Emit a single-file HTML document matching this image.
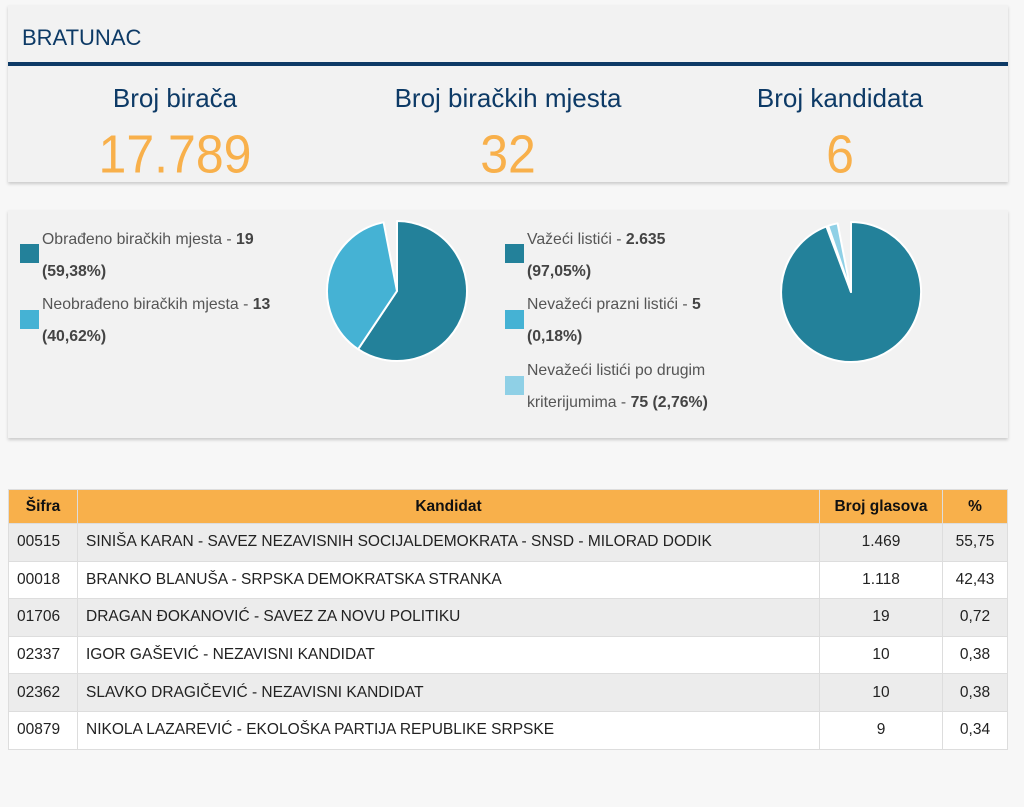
<!DOCTYPE html>
<html><head><meta charset="utf-8"><style>
body{margin:0;background:#f7f7f7;font-family:"Liberation Sans",sans-serif;width:1024px;height:807px;position:relative;overflow:hidden}
.card{position:absolute;left:8px;width:1000px;background:#f2f2f2;box-shadow:0 2px 3px rgba(0,0,0,.18)}
.h{position:absolute;left:14px;top:20px;font-size:22px;color:#0d3a66}
.line{position:absolute;left:0;right:0;top:57px;height:4px;background:#0d3a66}
.st{position:absolute;text-align:center;width:320px}
.st .t{font-size:26px;color:#0d3a66}
.st .n{font-size:50px;color:#f8b04b;margin-top:11px;transform:scaleY(1.08)}
.lg{position:absolute;font-size:15.8px;color:#555;line-height:32px}
.lg b{color:#444}
.sq{position:absolute;width:19px;height:19px}
table{position:absolute;left:8px;top:489px;width:1000px;border-collapse:collapse;font-size:15.5px;color:#222}
td,th{border:1px solid #ddd;padding:0 8px;height:37.6px;box-sizing:border-box}
th{background:#f8b04b;height:34px;font-weight:bold;color:#111}
tr:nth-child(even) td{background:#ececec}
tr:nth-child(odd) td{background:#fff}
.r{text-align:center}
</style></head><body>
<div class="card" style="top:5px;height:177px">
<div class="h">BRATUNAC</div><div class="line"></div>
<div class="st" style="left:7px;top:78px"><div class="t">Broj birača</div><div class="n">17.789</div></div>
<div class="st" style="left:340px;top:78px"><div class="t">Broj biračkih mjesta</div><div class="n">32</div></div>
<div class="st" style="left:672px;top:78px"><div class="t">Broj kandidata</div><div class="n">6</div></div>
</div>
<div class="card" style="top:210px;height:228px">
<div class="sq" style="left:12px;top:34px;background:#23819a"></div>
<div class="lg" style="left:34px;top:14px;width:270px">Obrađeno biračkih mjesta - <b>19</b><br><b>(59,38%)</b></div>
<div class="sq" style="left:12px;top:100px;background:#45b2d4"></div>
<div class="lg" style="left:34px;top:79px;width:270px">Neobrađeno biračkih mjesta - <b>13</b><br><b>(40,62%)</b></div>
<div class="sq" style="left:497px;top:34px;background:#23819a"></div>
<div class="lg" style="left:519px;top:14px;width:240px">Važeći listići - <b>2.635</b><br><b>(97,05%)</b></div>
<div class="sq" style="left:497px;top:100px;background:#45b2d4"></div>
<div class="lg" style="left:519px;top:79px;width:240px">Nevažeći prazni listići - <b>5</b><br><b>(0,18%)</b></div>
<div class="sq" style="left:497px;top:166px;background:#8fd0e6"></div>
<div class="lg" style="left:519px;top:145px;width:240px">Nevažeći listići po drugim<br>kriterijumima - <b>75 (2,76%)</b></div>
</div>
<svg style="position:absolute;left:0;top:0" width="1024" height="807">
<g stroke="#fff" stroke-width="2" stroke-linejoin="round">
<path d="M397,291 L397,221 A70,70 0 1 1 358.1,349.2 Z" fill="#23819a"/>
<path d="M397,291 L358.1,349.2 A70,70 0 0 1 383.6,222.3 Z" fill="#45b2d4"/>
<path d="M851,292 L851,222 A70,70 0 1 1 826.4,226.5 Z" fill="#23819a"/>
<path d="M851,292 L828.2,225.8 A70,70 0 0 1 837.6,223.3 Z" fill="#8fd0e6"/>
</g></svg>
<table>
<tr><th style="width:69px">Šifra</th><th>Kandidat</th><th style="width:123px">Broj glasova</th><th style="width:65px">%</th></tr>
<tr><td>00515</td><td>SINIŠA KARAN - SAVEZ NEZAVISNIH SOCIJALDEMOKRATA - SNSD - MILORAD DODIK</td><td class="r">1.469</td><td class="r">55,75</td></tr>
<tr><td>00018</td><td>BRANKO BLANUŠA - SRPSKA DEMOKRATSKA STRANKA</td><td class="r">1.118</td><td class="r">42,43</td></tr>
<tr><td>01706</td><td>DRAGAN ĐOKANOVIĆ - SAVEZ ZA NOVU POLITIKU</td><td class="r">19</td><td class="r">0,72</td></tr>
<tr><td>02337</td><td>IGOR GAŠEVIĆ - NEZAVISNI KANDIDAT</td><td class="r">10</td><td class="r">0,38</td></tr>
<tr><td>02362</td><td>SLAVKO DRAGIČEVIĆ - NEZAVISNI KANDIDAT</td><td class="r">10</td><td class="r">0,38</td></tr>
<tr><td>00879</td><td>NIKOLA LAZAREVIĆ - EKOLOŠKA PARTIJA REPUBLIKE SRPSKE</td><td class="r">9</td><td class="r">0,34</td></tr>
</table>
</body></html>
